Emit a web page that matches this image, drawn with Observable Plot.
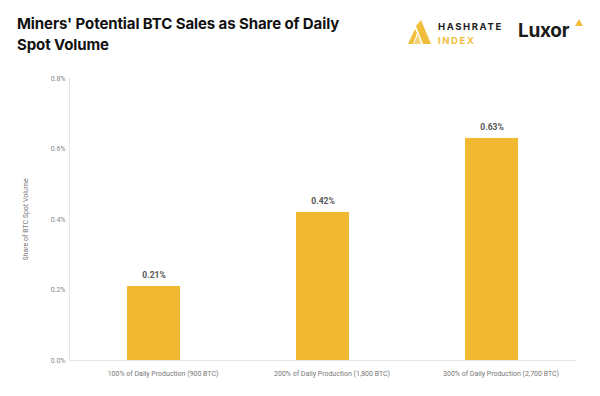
<!DOCTYPE html>
<html>
<head>
<meta charset="utf-8">
<script src="https://cdn.jsdelivr.net/npm/d3@7"></script>
<script src="https://cdn.jsdelivr.net/npm/@observablehq/plot@0.6"></script>
<style>
  html, body { margin: 0; padding: 0; background: #fff; }
  body { width: 600px; height: 396px; overflow: hidden; font-family: Inter, "Noto Sans", sans-serif; }
  #header { position: relative; height: 62px; }
  #title { position: absolute; left: 17px; top: 13px; font-size: 15px; font-weight: 700; line-height: 21px; color: #111; letter-spacing: -0.1px; }
  #logo1 { position: absolute; left: 408px; top: 20px; }
  #hr1 { position: absolute; left: 438px; top: 21px; font-size: 9.5px; font-weight: 700; letter-spacing: 1.6px; color: #222; }
  #hr2 { position: absolute; left: 438px; top: 35px; font-size: 9.5px; font-weight: 700; letter-spacing: 1.6px; color: #F0BE3C; }
  #luxor { position: absolute; left: 518px; top: 19px; font-size: 19px; font-weight: 700; color: #1a1a1a; letter-spacing: -0.3px; }
  #luxtri { position: absolute; left: 575px; top: 19px; }
</style>
</head>
<body>
<div id="header">
  <div id="title">Miners' Potential BTC Sales as Share of Daily<br>Spot Volume</div>
  <svg id="logo1" width="24" height="26" viewBox="0 0 24 26">
    <polygon points="0,24 5,24 9,13 7,9" fill="#F0BE3C"/>
    <polygon points="8,6 13,0 23,24 15,24" fill="#F0BE3C"/>
    <polygon points="6,24 10,14 13,24" fill="#F5D27A"/>
  </svg>
  <div id="hr1">HASHRATE</div>
  <div id="hr2">INDEX</div>
  <div id="luxor">Luxor</div>
  <svg id="luxtri" width="8" height="7" viewBox="0 0 8 7"><polygon points="4,0 8,7 0,7" fill="#F0BE3C"/></svg>
</div>
<div id="chart"></div>
<script>
const categories = [
  "100% of Daily Production (900 BTC)",
  "200% of Daily Production (1,800 BTC)",
  "300% of Daily Production (2,700 BTC)"
];
const shares = [0.21, 0.42, 0.63];
const yTicks = [0, 0.2, 0.4, 0.6, 0.8];

const data = categories.map((c, i) => ({category: c, share: shares[i]}));

const chart = Plot.plot({
  width: 600,
  height: 334,
  marginTop: 16,
  marginBottom: 36,
  marginLeft: 69,
  marginRight: 24,
  style: {fontFamily: "Roboto, Inter, sans-serif", fontSize: "7px", color: "#888", background: "#fff"},
  x: {domain: categories, paddingInner: 0.686, paddingOuter: 0.343, label: null},
  y: {domain: [0, 0.8], label: null},
  marks: [
    Plot.frame({anchor: "left", stroke: "#e6e6e6"}),
    Plot.ruleY([0], {stroke: "#e6e6e6", strokeWidth: 1}),
    Plot.axisY({ticks: yTicks, tickFormat: d => d.toFixed(1) + "%", tickSize: 0, tickPadding: 4, fill: "#888", fontSize: 7, label: null}),
    Plot.axisX({tickSize: 0, tickPadding: 11, dx: 9, fill: "#777", fontSize: 7, label: null}),
    Plot.barY(data, {x: "category", y: "share", fill: "#F0B931"}),
    Plot.text(data, {x: "category", y: "share", text: d => d.share.toFixed(2) + "%", dy: -11, fill: "#555", fontWeight: 700, fontSize: 8.5}),
    Plot.text(["Share of BTC Spot Volume"], {frameAnchor: "left", dx: -44, rotate: -90, fill: "#777", fontSize: 7, textAnchor: "middle"})
  ]
});
document.getElementById("chart").appendChild(chart);
</script>
</body>
</html>
